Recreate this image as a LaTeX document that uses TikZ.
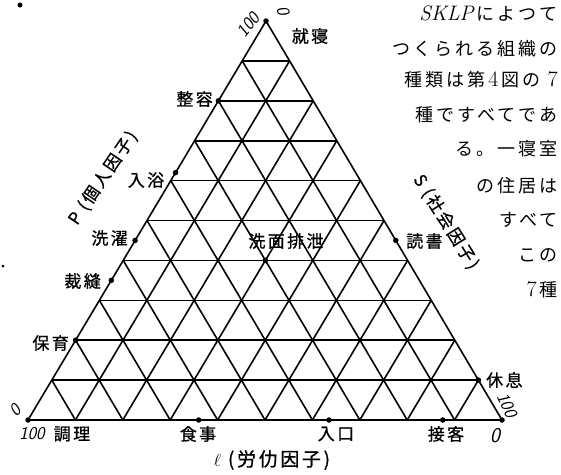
\documentclass[tikz,border=0pt]{standalone}
\usepackage{fontspec}
\newfontfamily\cjk[LetterSpace=14,FakeBold=0.8]{Noto Sans CJK JP}
\newfontfamily\cjkrt[LetterSpace=17]{Noto Sans CJK JP}
\usetikzlibrary{calc}
\newcommand\lat[1]{{\normalfont #1}}
\begin{document}
\begin{tikzpicture}[x=1pt,y=-1pt,
  gridline/.style={line width=1.6pt},
  dotpt/.style={circle,fill=black,inner sep=0pt,minimum size=5.5pt},
  lab/.style={font=\cjk\fontsize{17}{17}\selectfont,inner sep=0pt},
  axislab/.style={font=\cjk\fontsize{17}{17}\selectfont,inner sep=0pt},
  rt/.style={font=\cjkrt\fontsize{18}{18}\selectfont,anchor=east,inner sep=0pt},
  num/.style={font=\sffamily\itshape\fontsize{18}{18}\selectfont,inner sep=0pt}]
\useasboundingbox (0,0) rectangle (561,474);
\coordinate (A) at (28,420);
\coordinate (B) at (502,420);
\coordinate (C) at (266,21);
\draw[gridline] (A) -- (B) -- (C) -- cycle;
\foreach \k in {1,...,9}{
  \pgfmathsetmacro\a{\k/10}
  \pgfmathsetmacro\b{1-\k/10}
  \draw[gridline] (barycentric cs:A=\b,C=\a) -- (barycentric cs:B=\b,C=\a);
  \draw[gridline] (barycentric cs:A=\b,B=\a) -- (barycentric cs:B=\a,C=\b);
  \draw[gridline] (barycentric cs:A=\b,B=\a) -- (barycentric cs:A=\b,C=\a);
}
% points
\node[dotpt] (shushin) at (C) {};
\node[dotpt] (seiyo) at (barycentric cs:A=0.2,C=0.8) {};
\node[dotpt] (nyuyoku) at (barycentric cs:A=0.38,C=0.62) {};
\node[dotpt] (sentaku) at (barycentric cs:A=0.55,C=0.45) {};
\node[dotpt] (saiho) at (barycentric cs:A=0.65,C=0.35) {};
\node[dotpt] (hoiku) at (barycentric cs:A=0.8,C=0.2) {};
\node[dotpt] (chori) at (A) {};
\node[dotpt] (shokuji) at (barycentric cs:A=0.64,B=0.36) {};
\node[dotpt] (iriguchi) at (barycentric cs:A=0.365,B=0.635) {};
\node[dotpt] (sekkyaku) at (barycentric cs:A=0.125,B=0.875) {};
\node[dotpt] (zero) at (B) {};
\node[dotpt] (kyusoku) at (barycentric cs:B=0.9,C=0.1) {};
\node[dotpt] (dokusho) at (barycentric cs:B=0.55,C=0.45) {};
\node[dotpt] (senmen) at (barycentric cs:A=0.3,B=0.3,C=0.4) {};
% labels
\node[lab] (shushinL) at (310,36) {就寝};
\node[lab,anchor=east] (seiyoL) at (213,99) {整容};
\node[lab] (nyuyokuL) at (146,180) {入浴};
\node[lab,anchor=east] (sentakuL) at (128,238) {洗濯};
\node[lab,anchor=east] (saihoL) at (101,281) {裁縫};
\node[lab,anchor=east] (hoikuL) at (69,343) {保育};
\node[lab] (choriL) at (72,434) {調理};
\node[num] (choriN) at (32,434) {100};
\node[lab] (shokujiL) at (198,434) {食事};
\node[lab] (iriguchiL) at (336,434) {入口};
\node[lab] (sekkyakuL) at (446,434) {接客};
\node[num,font=\sffamily\itshape\fontsize{21}{21}\selectfont] (zeroL) at (495,436) {0};
\node[lab,anchor=west] (kyusokuL) at (486,380) {休息};
\node[lab,anchor=west] (dokushoL) at (406,241) {読書};
\node[lab] (senmenL) at (286,241) {洗面排泄};
% scale numbers at corners
\node[num,rotate=52] (apex100) at (248,25) {100};
\node[num,rotate=-72] (apex0) at (283,11) {0};
\node[num,rotate=45] (left0) at (15,410) {0};
\node[num,rotate=-65] (right100) at (507,405) {100};
% axis labels
\node[axislab,rotate=56] (pL) at (103,178) {P (個人因子)};
\node[axislab,rotate=-58] (sL) at (446,222) {S (社会因子)};
\node[axislab,font=\cjk\fontsize{19}{19}\selectfont] (lL) at (272,460) {$\ell$ (労仂因子)};
% right text
\node[rt] (t1) at (558,14) {\lat{\itshape\fontsize{21}{21}\selectfont SKLP}\,によつて};
\node[rt] (t2) at (558,49) {つくられる組織の};
\node[rt] (t3) at (558,80) {種類は第\,\lat{\fontsize{22}{22}\selectfont 4}\,図の\ \lat{\fontsize{22}{22}\selectfont 7}};
\node[rt] (t4) at (558,115) {種ですべてであ};
\node[rt] (t5) at (558,149) {る。一寝室};
\node[rt] (t6) at (558,186) {の住居は};
\node[rt] (t7) at (558,220) {すべて};
\node[rt] (t8) at (558,255) {この};
\node[rt] (t9) at (558,290) {\lat{\fontsize{22}{22}\selectfont 7}\,種};
% specks
\node[circle,fill=black,inner sep=0pt,minimum size=5pt] (speck1) at (20,5) {};
\node[circle,fill=black,inner sep=0pt,minimum size=3pt] (speck2) at (3,266) {};
\end{tikzpicture}
\end{document}
